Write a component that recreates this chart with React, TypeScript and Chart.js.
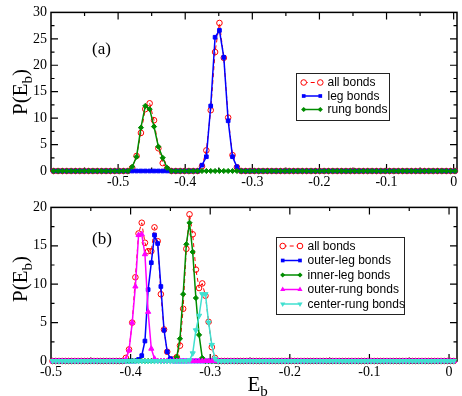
import React, { useEffect, useRef } from "react";
import { Chart, registerables } from "chart.js";

Chart.register(...registerables);

// ---------------- Panel (a) data ----------------
const topBinStart = -0.596;
const topBinWidth = 0.0065;
const topBinCount = 93;
const topPeakAFirstBin = 18; // first nonzero bin of the low-energy peak
const topPeakBFirstBin = 34; // first nonzero bin of the high-energy peak
const topAllPeakA = [0.6, 2.85, 7.2, 11.7, 12.8, 9.6, 4.3, 1.5, 0.4];
const topAllPeakB = [0.9, 3.9, 11.5, 22.5, 28.0, 21.4, 10.1, 3.0, 0.7];
const topLegPeak = [1.1, 2.7, 12.3, 25.3, 26.6, 21.5, 9.5, 2.7, 0.8];
const topRungPeak = [0.8, 2.7, 8.2, 12.3, 11.7, 8.4, 4.6, 2.5, 0.6];
const topXLabels = [-0.5, -0.4, -0.3, -0.2, -0.1, 0];
const topXMinor = [-0.55, -0.45, -0.35, -0.25, -0.15, -0.05];
const topYMajor = [5, 10, 15, 20, 25];
const topYMinor = [2.5, 7.5, 12.5, 17.5, 22.5, 27.5];

// ---------------- Panel (b) data ----------------
const botBinStart = -0.498;
const botBinWidth = 0.004;
const botBinCount = 127;
const botAllPeakAFirstBin = 23;
const botAllPeakA = [0.4, 1.5, 5.0, 10.9, 16.6, 18.0, 15.4, 14.3, 14.3, 17.4, 15.6, 8.7, 4.1, 1.2, 0.2];
const botAllPeakBFirstBin = 38;
const botAllPeakB = [0.2, 0.5, 2.0, 6.8, 14.6, 19.1, 16.5, 11.9, 9.5, 10.1, 8.5, 5.1, 1.8, 0.4];
const botOuterLegFirstBin = 27;
const botOuterLeg = [0.2, 0.7, 2.6, 9.3, 12.8, 16.4, 15.3, 9.7, 4.0, 1.2, 0.3];
const botInnerLegFirstBin = 39;
const botInnerLeg = [0.5, 2.9, 8.7, 15.2, 18.0, 14.2, 8.2, 3.4, 0.4];
const botOuterRungFirstBin = 23;
const botOuterRung = [0.2, 1.4, 5.0, 9.7, 16.4, 16.5, 13.9, 6.4, 1.6, 0.3];
const botCenterRungFirstBin = 43;
const botCenterRung = [0.1, 1.0, 4.0, 5.9, 8.7, 8.7, 5.0, 2.1, 0.3];
const botXLabels = [-0.5, -0.4, -0.3, -0.2, -0.1, 0];
const botXMinor = [-0.45, -0.35, -0.25, -0.15, -0.05];
const botYMajor = [5, 10, 15];
const botYMinor = [2.5, 7.5, 12.5, 17.5];

const RED = "#ff0000";
const BLUE = "#0000ff";
const GREEN = "rgb(0,140,0)";
const MAGENTA = "#ff00ff";
const CYAN = "#40e0d0";

type Seg = [number, number[]];

function binned(start: number, width: number, count: number, segs: Seg[]) {
  const pts: { x: number; y: number }[] = [];
  for (let i = 0; i < count; i++) {
    let y = 0;
    for (const [first, vals] of segs) {
      if (i >= first && i < first + vals.length) y = vals[i - first];
    }
    pts.push({ x: +(start + i * width).toFixed(5), y });
  }
  return pts;
}

type Marker = "circle" | "rect" | "rectRot" | "triUp" | "triDown";

interface SeriesSpec {
  label: string;
  color: string;
  marker: Marker;
  dashed?: boolean;
  data: { x: number; y: number }[];
  order: number;
}

function dataset(s: SeriesSpec) {
  const base: any = {
    label: s.label,
    data: s.data,
    borderColor: s.color,
    backgroundColor: s.color,
    borderWidth: s.dashed ? 1 : 1.5,
    borderDash: s.dashed ? [4, 3] : [],
    pointBorderColor: s.color,
    pointBorderWidth: 1,
    pointBackgroundColor: s.marker === "circle" ? "rgba(0,0,0,0)" : s.color,
    pointRadius: 2.8,
    pointStyle: "circle",
    pointRotation: 0,
    clip: false,
    order: s.order,
    tension: 0,
  };
  if (s.marker === "rect") { base.pointStyle = "rect"; base.pointRadius = 2.6; }
  if (s.marker === "rectRot") { base.pointStyle = "rectRot"; base.pointRadius = 2.6; }
  if (s.marker === "triUp") { base.pointStyle = "triangle"; base.pointRadius = 3; }
  if (s.marker === "triDown") { base.pointStyle = "triangle"; base.pointRadius = 3; base.pointRotation = 180; }
  return base;
}

function drawMarker(ctx: CanvasRenderingContext2D, m: Marker, x: number, y: number, color: string) {
  ctx.save();
  ctx.fillStyle = color;
  ctx.strokeStyle = color;
  ctx.lineWidth = 1;
  ctx.setLineDash([]);
  ctx.beginPath();
  if (m === "circle") {
    ctx.arc(x, y, 2.8, 0, Math.PI * 2);
    ctx.fillStyle = "#fff";
    ctx.fill();
    ctx.stroke();
  } else if (m === "rect") {
    const h = 2.6 * Math.SQRT1_2;
    ctx.rect(x - h, y - h, 2 * h, 2 * h);
    ctx.fill();
  } else if (m === "rectRot") {
    const r = 2.6;
    ctx.moveTo(x, y - r); ctx.lineTo(x + r, y); ctx.lineTo(x, y + r); ctx.lineTo(x - r, y); ctx.closePath();
    ctx.fill();
  } else {
    const r = 3;
    const d = m === "triUp" ? -1 : 1;
    ctx.moveTo(x, y + d * r);
    ctx.lineTo(x + r * 0.866, y - d * r * 0.5);
    ctx.lineTo(x - r * 0.866, y - d * r * 0.5);
    ctx.closePath();
    ctx.fill();
  }
  ctx.restore();
}

interface PanelSpec {
  id: string;
  width: number;
  height: number;
  padTop: number;
  xAxisHeight: number;
  xMin: number;
  xMax: number;
  yMax: number;
  xLabels: number[];
  xMinor: number[];
  yMajor: number[];
  yMinor: number[];
  series: SeriesSpec[];
  tag: string;
  tagPos: [number, number];
  titleCenterY: number;
  legendBox: [number, number, number, number];
  legendRows: number[];
  legendLine: [number, number];
  legendTextX: number;
  xTitle?: [number, number];
}

function makePlugin(p: PanelSpec) {
  return {
    id: "frame_" + p.id,
    beforeDatasetsDraw(chart: any) {
      const { ctx, chartArea } = chart;
      const { left, right, top, bottom } = chartArea;
      const xs = chart.scales.x;
      const ys = chart.scales.y;
      ctx.save();
      ctx.strokeStyle = "#000";
      ctx.lineWidth = 1.5;
      ctx.strokeRect(left, top, right - left, bottom - top);
      const tick = (vals: number[], len: number) => {
        for (const v of vals) {
          const px = xs.getPixelForValue(v);
          if (px <= left + 1 || px >= right - 1) continue;
          ctx.beginPath();
          ctx.moveTo(px, bottom); ctx.lineTo(px, bottom - len);
          ctx.moveTo(px, top); ctx.lineTo(px, top + len);
          ctx.stroke();
        }
      };
      const ytick = (vals: number[], len: number) => {
        for (const v of vals) {
          const py = ys.getPixelForValue(v);
          ctx.beginPath();
          ctx.moveTo(left, py); ctx.lineTo(left + len, py);
          ctx.moveTo(right, py); ctx.lineTo(right - len, py);
          ctx.stroke();
        }
      };
      ctx.lineWidth = 1.2;
      tick(p.xLabels, 7);
      tick(p.xMinor, 3.5);
      ytick(p.yMajor, 7);
      ytick(p.yMinor, 3.5);
      ctx.restore();
    },
    afterDraw(chart: any) {
      const ctx: CanvasRenderingContext2D = chart.ctx;
      ctx.save();
      // Panel tag
      ctx.fillStyle = "#000";
      ctx.font = "17px 'Liberation Serif'";
      ctx.textBaseline = "alphabetic";
      ctx.textAlign = "left";
      ctx.fillText(p.tag, p.tagPos[0], p.tagPos[1]);

      // Y title P(E_b), rotated
      ctx.save();
      ctx.translate(27, p.titleCenterY);
      ctx.rotate(-Math.PI / 2);
      const big = "21px 'Liberation Serif'";
      const small = "15px 'Liberation Serif'";
      ctx.font = big;
      const w1 = ctx.measureText("P(E").width;
      const w3 = ctx.measureText(")").width;
      ctx.font = small;
      const w2 = ctx.measureText("b").width;
      let x0 = -(w1 + w2 + w3) / 2;
      ctx.font = big;
      ctx.fillText("P(E", x0, 0);
      ctx.font = small;
      ctx.fillText("b", x0 + w1, 5);
      ctx.font = big;
      ctx.fillText(")", x0 + w1 + w2, 0);
      ctx.restore();

      // X title
      if (p.xTitle) {
        ctx.font = big;
        ctx.fillText("E", p.xTitle[0], p.xTitle[1]);
        const we = ctx.measureText("E").width;
        ctx.font = small;
        ctx.fillText("b", p.xTitle[0] + we, p.xTitle[1] + 5);
      }

      // Legend
      const [bx, by, bw, bh] = p.legendBox;
      ctx.fillStyle = "#fff";
      ctx.fillRect(bx, by, bw, bh);
      ctx.strokeStyle = "#222";
      ctx.lineWidth = 1;
      ctx.strokeRect(bx + 0.5, by + 0.5, bw, bh);
      ctx.font = "12px 'Liberation Sans'";
      ctx.textBaseline = "middle";
      p.series.forEach((s, i) => {
        const y = p.legendRows[i];
        const [lx1, lx2] = p.legendLine;
        ctx.save();
        ctx.strokeStyle = s.color;
        ctx.lineWidth = s.dashed ? 1 : 1.5;
        ctx.setLineDash(s.dashed ? [4, 3] : []);
        ctx.beginPath();
        ctx.moveTo(lx1, y);
        ctx.lineTo(lx2, y);
        ctx.stroke();
        ctx.restore();
        drawMarker(ctx, s.marker, lx1, y, s.color);
        drawMarker(ctx, s.marker, lx2, y, s.color);
        ctx.fillStyle = "#000";
        ctx.fillText(s.label, p.legendTextX, y + 0.5);
      });
      ctx.restore();
    },
  };
}

function fmt(v: number) {
  if (Math.abs(v) < 1e-9) return "0";
  return v.toFixed(1);
}

function buildChart(canvas: HTMLCanvasElement, p: PanelSpec) {
  const tickFont = { family: "'Liberation Serif'", size: 14 };
  return new Chart(canvas, {
    type: "line",
    data: { datasets: p.series.map(dataset) },
    options: {
      animation: false,
      responsive: false,
      devicePixelRatio: 1,
      events: [],
      layout: { padding: { top: p.padTop, right: 1, left: 0, bottom: 0 } },
      plugins: { legend: { display: false }, tooltip: { enabled: false } },
      scales: {
        x: {
          type: "linear",
          min: p.xMin,
          max: p.xMax,
          grid: { display: false, drawTicks: false },
          border: { display: false },
          ticks: {
            font: tickFont,
            color: "#000",
            padding: 3,
            maxRotation: 0,
            autoSkip: false,
            callback: (v: any) => fmt(Number(v)),
          },
          afterBuildTicks: (s: any) => {
            s.ticks = p.xLabels.map((value) => ({ value }));
          },
          afterFit: (s: any) => {
            s.height = p.xAxisHeight;
          },
        },
        y: {
          type: "linear",
          min: 0,
          max: p.yMax,
          grid: { display: false, drawTicks: false },
          border: { display: false },
          ticks: { font: tickFont, color: "#000", padding: 4, stepSize: 5 },
          afterFit: (s: any) => {
            s.width = 51;
          },
        },
      },
    } as any,
    plugins: [makePlugin(p)],
  });
}

const topSpec: PanelSpec = {
  id: "a",
  width: 462,
  height: 195,
  padTop: 12,
  xAxisHeight: 24,
  xMin: -0.6,
  xMax: 0.005,
  yMax: 30,
  xLabels: topXLabels,
  xMinor: topXMinor,
  yMajor: topYMajor,
  yMinor: topYMinor,
  series: [
    {
      label: "all bonds", color: RED, marker: "circle", dashed: true, order: 10,
      data: binned(topBinStart, topBinWidth, topBinCount, [[topPeakAFirstBin, topAllPeakA], [topPeakBFirstBin, topAllPeakB]]),
    },
    {
      label: "leg bonds", color: BLUE, marker: "rect", order: 2,
      data: binned(topBinStart, topBinWidth, topBinCount, [[topPeakBFirstBin, topLegPeak]]),
    },
    {
      label: "rung bonds", color: GREEN, marker: "rectRot", order: 1,
      data: binned(topBinStart, topBinWidth, topBinCount, [[topPeakAFirstBin, topRungPeak]]),
    },
  ],
  tag: "(a)",
  tagPos: [92, 54],
  titleCenterY: 92,
  legendBox: [296, 73, 93, 47],
  legendRows: [82.5, 96, 109.5],
  legendLine: [303.7, 320.3],
  legendTextX: 327.5,
};

const botSpec: PanelSpec = {
  id: "b",
  width: 462,
  height: 201,
  padTop: 7,
  xAxisHeight: 35,
  xMin: -0.5,
  xMax: 0.01,
  yMax: 20,
  xLabels: botXLabels,
  xMinor: botXMinor,
  yMajor: botYMajor,
  yMinor: botYMinor,
  series: [
    {
      label: "all bonds", color: RED, marker: "circle", dashed: true, order: 10,
      data: binned(botBinStart, botBinWidth, botBinCount, [[botAllPeakAFirstBin, botAllPeakA], [botAllPeakBFirstBin, botAllPeakB]]),
    },
    {
      label: "outer-leg bonds", color: BLUE, marker: "rect", order: 4,
      data: binned(botBinStart, botBinWidth, botBinCount, [[botOuterLegFirstBin, botOuterLeg]]),
    },
    {
      label: "inner-leg bonds", color: GREEN, marker: "rectRot", order: 3,
      data: binned(botBinStart, botBinWidth, botBinCount, [[botInnerLegFirstBin, botInnerLeg]]),
    },
    {
      label: "outer-rung bonds", color: MAGENTA, marker: "triUp", order: 2,
      data: binned(botBinStart, botBinWidth, botBinCount, [[botOuterRungFirstBin, botOuterRung]]),
    },
    {
      label: "center-rung bonds", color: CYAN, marker: "triDown", order: 1,
      data: binned(botBinStart, botBinWidth, botBinCount, [[botCenterRungFirstBin, botCenterRung]]),
    },
  ],
  tag: "(b)",
  tagPos: [92, 49],
  titleCenterY: 84,
  legendBox: [276, 42, 128, 77],
  legendRows: [51, 65.5, 80, 94.5, 109],
  legendLine: [282.7, 300],
  legendTextX: 307.5,
  xTitle: [247.5, 196],
};

export default function App() {
  const topRef = useRef<HTMLCanvasElement>(null);
  const botRef = useRef<HTMLCanvasElement>(null);

  useEffect(() => {
    const c1 = buildChart(topRef.current!, topSpec);
    const c2 = buildChart(botRef.current!, botSpec);
    return () => {
      c1.destroy();
      c2.destroy();
    };
  }, []);

  return (
    <div style={{ position: "absolute", left: 0, top: 0, width: 462, height: 396, background: "#fff" }}>
      <canvas
        ref={topRef}
        width={462}
        height={195}
        style={{ position: "absolute", left: 0, top: 0, width: 462, height: 195 }}
      />
      <canvas
        ref={botRef}
        width={462}
        height={201}
        style={{ position: "absolute", left: 0, top: 195, width: 462, height: 201 }}
      />
    </div>
  );
}
